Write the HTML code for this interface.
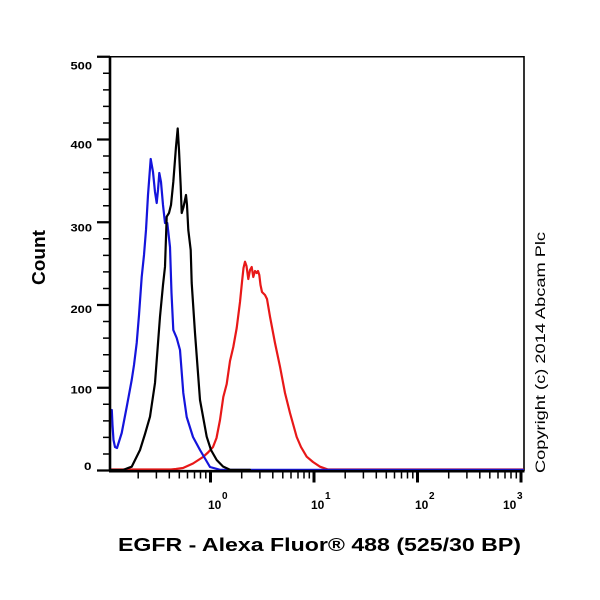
<!DOCTYPE html>
<html><head><meta charset="utf-8"><style>
html,body{margin:0;padding:0;background:#fff;}
svg{display:block;}
</style></head><body>
<svg width="600" height="600" viewBox="0 0 600 600" xmlns="http://www.w3.org/2000/svg">
<rect width="600" height="600" fill="#fff"/>
<!-- frame -->
<line x1="110" y1="56.75" x2="524.5" y2="56.75" stroke="#000" stroke-width="1.6"/>
<line x1="524" y1="56" x2="524" y2="471" stroke="#000" stroke-width="1.6"/>
<!-- curves -->
<g fill="none" stroke-width="2.2" stroke-linejoin="round" stroke-linecap="round">
<polyline stroke="#e81818" points="110,469.5 171,469.5 176,469 183,468 193,463.5 203,457 208,452.5 213,447 216.5,438 220,420 223.3,397 226.7,384 230,361 233.3,347 236.7,328 240,302 242,282 243.5,268 245,261.7 246.5,266 248.3,279 250,270 251.7,267 253.3,277 255,271 256.7,273 258,271 259.3,275 260.5,285 262,292 265,295 267,299 270,316.7 275,343 280,366.7 285,393 290,413 296.7,437 301,447 306.7,456.7 313,462 320,466.7 328,469.5 523,469.5"/>
<polyline stroke="#1414dc" points="111.8,410 112.5,425 113.5,440 115,447 117,448 121.7,433 126.7,407 131.7,380 134,365 136.7,343 139,315 141.7,277 144,255 146,230 148,195 150.7,159 153,172 155,192 156.7,203 158,190 159.3,173 161,182 163,205 165,223 167.3,223 170,247 171.5,293 173.3,330 176.7,338 180,350 183.3,393 186.7,417 193,437 200,450 210,467 220,469.8 523,469.8"/>
<polyline stroke="#000" points="110,470 123,470 131.7,466.7 140,450 145,434 150,416.7 155,383 160,316.7 163,285 165,266.7 166.7,216.7 169,213 171,205 173.3,182 176,146.7 177.7,128.5 179,150 180.7,186 181.7,213 183.5,207 186,195 187,205 188.3,230 190.7,250 191.7,283 195,333 200,400 206.7,436.7 211,450 216.7,460 223,466.5 230,469.8 250,469.8"/>
</g>
<!-- axes -->
<line x1="110" y1="56" x2="110" y2="471.5" stroke="#000" stroke-width="2.6"/>
<line x1="109" y1="471.2" x2="524.5" y2="471.2" stroke="#000" stroke-width="2.6"/>
<!-- y major ticks -->
<path stroke="#000" stroke-width="2.2" fill="none" d="M97,470.5H110M97,387.75H110M97,305H110M97,222.25H110M97,139.5H110M97,56.75H110"/>
<!-- y minor ticks -->
<path stroke="#000" stroke-width="1.5" fill="none" d="M103,454H110M103,437.4H110M103,420.9H110M103,404.3H110M103,371.2H110M103,354.7H110M103,338.1H110M103,321.55H110M103,288.5H110M103,271.9H110M103,255.4H110M103,238.8H110M103,205.7H110M103,189.2H110M103,172.6H110M103,156.05H110M103,123H110M103,106.4H110M103,89.85H110M103,73.3H110"/>
<!-- x minor ticks -->
<path stroke="#000" stroke-width="1.5" fill="none" d="M138.2,471V478.5M156.4,471V478.5M169.3,471V478.5M179.3,471V478.5M187.5,471V478.5M194.5,471V478.5M200.5,471V478.5M205.8,471V478.5M241.7,471V478.5M259.9,471V478.5M272.8,471V478.5M282.8,471V478.5M291,471V478.5M298,471V478.5M304,471V478.5M309.3,471V478.5M345.2,471V478.5M363.4,471V478.5M376.3,471V478.5M386.3,471V478.5M394.5,471V478.5M401.5,471V478.5M407.5,471V478.5M412.8,471V478.5M448.7,471V478.5M466.9,471V478.5M479.8,471V478.5M489.8,471V478.5M498,471V478.5M505,471V478.5M511,471V478.5M516.3,471V478.5"/>
<!-- x major ticks -->
<path stroke="#000" stroke-width="3" fill="none" d="M210.5,471V482.5M314,471V482.5M417.5,471V482.5M521,471V482.5"/>
<!-- y labels -->
<g font-family="Liberation Sans, Arial, sans-serif" font-size="11" font-weight="bold" fill="#000" text-anchor="end">
<text x="92" y="69.5" textLength="21.5" lengthAdjust="spacingAndGlyphs">500</text>
<text x="92" y="148.3" textLength="21.5" lengthAdjust="spacingAndGlyphs">400</text>
<text x="92" y="231.3" textLength="21.5" lengthAdjust="spacingAndGlyphs">300</text>
<text x="92" y="313" textLength="21.5" lengthAdjust="spacingAndGlyphs">200</text>
<text x="92" y="393.5" textLength="21.5" lengthAdjust="spacingAndGlyphs">100</text>
<text x="91.5" y="470" textLength="7.5" lengthAdjust="spacingAndGlyphs">0</text>
</g>
<!-- x labels -->
<g font-family="Liberation Sans, Arial, sans-serif" font-weight="bold" fill="#000">
<text x="208" y="509" font-size="12">10</text>
<text x="222" y="499" font-size="10">0</text>
<text x="311" y="509" font-size="12">10</text>
<text x="325" y="499" font-size="10">1</text>
<text x="415" y="509" font-size="12">10</text>
<text x="429" y="499" font-size="10">2</text>
<text x="503" y="509" font-size="12">10</text>
<text x="517" y="499" font-size="10">3</text>
</g>
<!-- axis titles -->
<text x="118" y="551" font-family="Liberation Sans, Arial, sans-serif" font-size="18" font-weight="bold" fill="#000" textLength="403" lengthAdjust="spacingAndGlyphs">EGFR - Alexa Fluor® 488 (525/30 BP)</text>
<text transform="translate(45,257.5) rotate(-90)" x="0" y="0" text-anchor="middle" font-family="Liberation Sans, Arial, sans-serif" font-size="18" font-weight="bold" fill="#000" textLength="55" lengthAdjust="spacingAndGlyphs">Count</text>
<text transform="translate(545,352.5) rotate(-90)" x="0" y="0" text-anchor="middle" font-family="Liberation Sans, Arial, sans-serif" font-size="13.5" fill="#000" textLength="241" lengthAdjust="spacingAndGlyphs">Copyright (c) 2014  Abcam  Plc</text>
</svg>
</body></html>
